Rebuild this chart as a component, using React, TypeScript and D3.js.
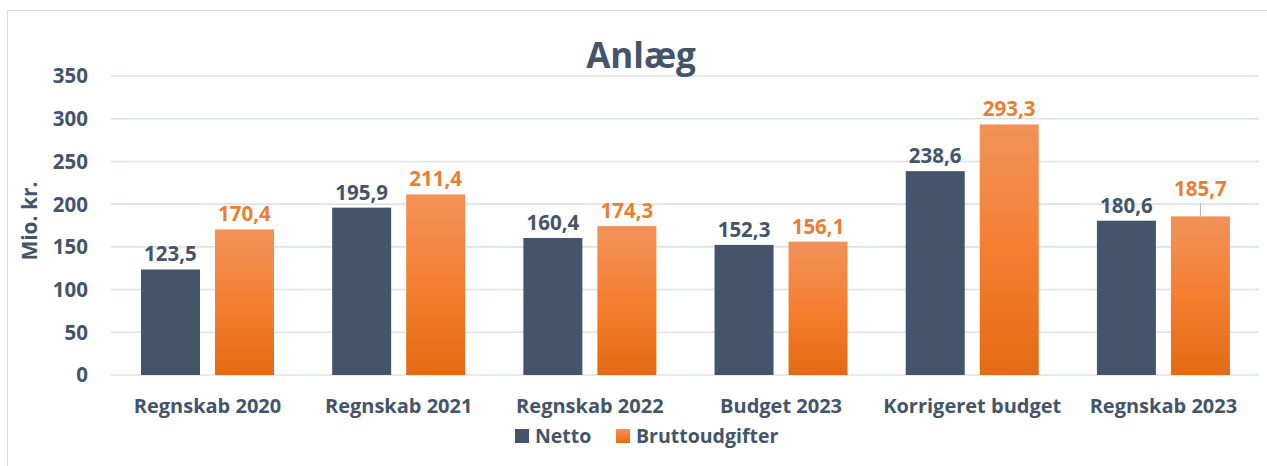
import React from "react";
import * as d3 from "d3";

const categories = ["Regnskab 2020", "Regnskab 2021", "Regnskab 2022", "Budget 2023", "Korrigeret budget", "Regnskab 2023"];
const netto = [123.5, 195.9, 160.4, 152.3, 238.6, 180.6];
const brutto = [170.4, 211.4, 174.3, 156.1, 293.3, 185.7];
const yTicks = [0, 50, 100, 150, 200, 250, 300, 350];
const seriesNames = ["Netto", "Bruttoudgifter"];

const W = 1267;
const H = 466;
const TEXT = "#44546A";
const NETTO = "#44546A";
const ORANGE_LABEL = "#ED7D31";
const FONT = "'Open Sans', 'Noto Sans', sans-serif";

const fmt = (v: number) => v.toFixed(1).replace(".", ",");

export default function App() {
  const y = d3.scaleLinear().domain([0, 350]).range([375, 76]);
  const x0 = d3.scaleBand<string>().domain(categories).range([111.9, 1259]).padding(0);
  const groupW = 133;
  const x1 = d3.scaleBand<string>().domain(["netto", "brutto"]).range([0, groupW]).paddingInner(0.2027).paddingOuter(0);
  const bw = x1.bandwidth();

  return (
    <svg width={W} height={H} style={{ position: "absolute", left: 0, top: 0 }} fontFamily={FONT}>
      <defs>
        <linearGradient id="og" x1="0" y1="0" x2="0" y2="1">
          <stop offset="0" stopColor="#F19259" />
          <stop offset="0.5" stopColor="#F47F31" />
          <stop offset="1" stopColor="#E46A12" />
        </linearGradient>
      </defs>
      <rect x={0} y={0} width={W} height={H} fill="#fff" />
      <path d={`M7.5,${H} V10.5 H${W}`} fill="none" stroke="#D9D9D9" strokeWidth={1} />

      {yTicks.map((t) => (
        <g key={t}>
          <line x1={111} x2={1259} y1={y(t)} y2={y(t)} stroke="#DEE2E8" strokeWidth={1.6} />
          <text x={88} y={y(t)} dy="0.36em" textAnchor="end" fontSize={20.5} fontWeight={700} fill={TEXT}>
            {t}
          </text>
        </g>
      ))}

      <text x={641} y={68} textAnchor="middle" fontSize={35} fontWeight={700} fill={TEXT}>
        Anlæg
      </text>

      <text transform="translate(37,221) rotate(-90)" textAnchor="middle" fontSize={21} fontWeight={700} fill={TEXT}>
        Mio. kr.
      </text>

      {categories.map((c, i) => {
        const gx = (x0(c) as number) + x0.bandwidth() / 2 - groupW / 2;
        const nx = gx + (x1("netto") as number);
        const bx = gx + (x1("brutto") as number);
        const raised = i === categories.length - 1;
        const bTop = y(brutto[i]);
        const bLabelY = raised ? bTop - 20 : bTop - 8;
        return (
          <g key={c}>
            <rect x={nx} y={y(netto[i])} width={bw} height={y(0) - y(netto[i])} fill={NETTO} />
            <rect x={bx} y={bTop} width={bw} height={y(0) - bTop} fill="url(#og)" />
            <text x={nx + bw / 2} y={y(netto[i]) - 8} textAnchor="middle" fontSize={20.5} fontWeight={700} fill={TEXT}>
              {fmt(netto[i])}
            </text>
            <text x={bx + bw / 2} y={bLabelY} textAnchor="middle" fontSize={20.5} fontWeight={700} fill={ORANGE_LABEL}>
              {fmt(brutto[i])}
            </text>
            {raised && (
              <line x1={bx + bw / 2} x2={bx + bw / 2} y1={bLabelY + 7} y2={bTop} stroke="#A6B4C8" strokeWidth={1} />
            )}
            <text x={(x0(c) as number) + x0.bandwidth() / 2} y={413} textAnchor="middle" fontSize={20} fontWeight={700} fill={TEXT}>
              {c}
            </text>
          </g>
        );
      })}

      <g>
        <rect x={515} y={429} width={14} height={14} fill={NETTO} />
        <text x={535} y={443} fontSize={19.5} fontWeight={700} fill={TEXT}>
          {seriesNames[0]}
        </text>
        <rect x={616} y={429} width={14} height={14} fill="url(#og)" />
        <text x={636} y={443} fontSize={19.5} fontWeight={700} fill={TEXT}>
          {seriesNames[1]}
        </text>
      </g>
    </svg>
  );
}
